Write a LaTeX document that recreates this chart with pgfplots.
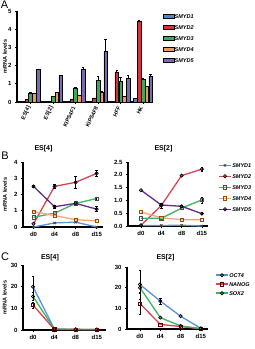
\documentclass[border=0pt]{standalone}
\usepackage{fontspec}
\setmainfont{Liberation Sans}
\usepackage{pgfplots}
\pgfplotsset{compat=1.18}
\definecolor{cA}{HTML}{4F86C6}
\definecolor{cB}{HTML}{D0343F}
\definecolor{cC}{HTML}{3AAA58}
\definecolor{cD}{HTML}{EE9A5E}
\definecolor{cE}{HTML}{7B6AAE}
\definecolor{lA}{HTML}{5A92D4}
\definecolor{lB}{HTML}{D24552}
\definecolor{lC}{HTML}{3FB463}
\definecolor{lD}{HTML}{F0A676}
\definecolor{lE}{HTML}{5E2E86}
\pgfplotsset{
  base/.style={
    scale only axis, clip=false,
    axis x line*=bottom, axis y line*=left,
    axis line style={line width=1.1pt,-},
    tick style={line width=0.8pt,black},
    tick align=outside, major tick length=2pt,
    /pgf/number format/assume math mode=true,
    tick label style={font=\bfseries\fontsize{6}{6}\selectfont},
    xticklabel style={yshift=0.5pt},
    ylabel style={font=\bfseries\fontsize{5.5}{5.5}\selectfont},
    title style={font=\bfseries\fontsize{7}{7}\selectfont, anchor=center},
    legend style={draw=none, fill=none, inner sep=0pt,
      font=\bfseries\itshape\fontsize{5.5}{5.5}\selectfont,
      nodes={inner sep=0.5pt, text height=4pt, text depth=0pt},
      /tikz/every even column/.append style={column sep=2pt}},
    legend cell align=left,
  },
  ln/.style={line width=1.3pt, mark size=1.6pt},
  eb/.style={/pgfplots/error bars/y dir=both, /pgfplots/error bars/y explicit,
    /pgfplots/error bars/error bar style={line width=0.6pt,black},
    /pgfplots/error bars/error mark options={rotate=90,mark size=1.3pt,line width=0.6pt,black}},
  ebp/.style={/pgfplots/error bars/y dir=plus, /pgfplots/error bars/y explicit,
    /pgfplots/error bars/error bar style={line width=0.6pt,black},
    /pgfplots/error bars/error mark options={rotate=90,mark size=1.2pt,line width=0.6pt,black}},
  lineleg/.style={legend image code/.code={\draw[mark repeat=2,mark phase=2,##1,line width=1.6pt] plot coordinates {(0pt,0pt) (6pt,0pt) (12pt,0pt)};}},
}
\begin{document}
\begin{tikzpicture}[x=1pt,y=1pt]
\path[use as bounding box] (0,0) rectangle (255,349);
\node[font=\fontsize{11}{11}\selectfont] at (4.5,344.5) {A};
\node[font=\fontsize{11}{11}\selectfont] at (5,193) {B};
\node[font=\fontsize{11}{11}\selectfont] at (5,92) {C};
% Panel A
\begin{axis}[base, at={(17pt,247pt)}, anchor=south west,
  width=136pt, height=91pt,
  xmin=-0.6, xmax=5.44, ymin=0, ymax=5, ytick={0,1,2,3,4,5},
  xtick={0,1,2,3,4,5},
  xticklabels={{ES[4]},{ES[2]},{KIPS4F1},{KIPS4F8},{HFF},{HK}},
  xticklabel style={rotate=65, anchor=east, font=\bfseries\fontsize{5.5}{5.5}\selectfont},
  ylabel={mRNA levels},
  ylabel style={at={(axis description cs:-0.088,0.5)}, anchor=center},
  ybar=0.2pt, bar width=3.6pt,
  legend image code/.code={\draw[#1] (0pt,-2pt) rectangle (11pt,2pt);},
  legend style={at={(axis description cs:1.07,0.973)}, anchor=north west,
    /tikz/row sep=6pt},
  every axis plot/.append style={draw=black, line width=0.5pt, ebp},
]
\addplot[fill=cA] coordinates {(0,0.02) (1,0.01) (2,0.01) (3,0.02) (4,0.01) (5,0.2)};
\addplot[fill=cB] coordinates {(0,0.15) (1,0.05) (2,0.17) (3,0.22) (4,1.66) +- (0,0.1) (5,4.45) +- (0,0.03)};
\addplot[fill=cC] coordinates {(0,0.5) +- (0,0.04) (1,0.3) (2,0.77) +- (0,0.04) (3,1.2) +- (0,0.22) (4,1.15) +- (0,0.2) (5,1.25) +- (0,0.03)};
\addplot[fill=cD] coordinates {(0,0.5) (1,0.53) (2,0.38) (3,0.52) +- (0,0.05) (4,0.29) (5,0.87)};
\addplot[fill=cE] coordinates {(0,1.8) +- (0,0.02) (1,1.45) +- (0,0.04) (2,1.8) +- (0,0.1) (3,2.8) +- (0,0.64) (4,1.3) +- (0,0.15) (5,1.43) +- (0,0.1)};
\legend{SMYD1,SMYD2,SMYD3,SMYD4,SMYD5}
\end{axis}
% Panel B left
\begin{axis}[base, at={(23pt,122pt)}, anchor=south west,
  width=80pt, height=65pt,
  xmin=-0.5, xmax=3.3, ymin=0, ymax=4, ytick={0,1,2,3,4},
  xtick={0,1,2,3}, xticklabels={d0,d4,d8,d15},
  ylabel={mRNA levels},
  ylabel style={at={(axis description cs:-0.225,0.5)}, anchor=center},
  title={ES[4]}, title style={at={(axis description cs:0.256,1.108)}},
]
\addplot[ln, color=lA, mark=x, mark options={draw=black!75, line width=0.8pt}, eb] coordinates {(0,0.0) (1,0.25) (2,0.3) (3,0.0)};
\addplot[ln, color=lB, mark=o, mark options={draw=black, line width=0.7pt}, eb] coordinates {(0,0.2) (1,2.5) +- (0,0.1) (2,2.75) +- (0,0.35) (3,3.3) +- (0,0.2)};
\addplot[ln, color=lC, mark=square, mark options={draw=black!70, line width=0.7pt}, eb] coordinates {(0,0.6) (1,0.85) (2,1.45) (3,1.75) +- (0,0.1)};
\addplot[ln, color=lD, mark=square, mark options={draw=black!40!orange, line width=0.7pt}, eb] coordinates {(0,0.95) (1,0.7) (2,0.45) (3,0.38)};
\addplot[ln, color=lE, mark=o, mark options={draw=black, line width=0.7pt}, eb] coordinates {(0,2.5) +- (0,0.06) (1,1.25) +- (0,0.08) (2,1.45) (3,1.1) +- (0,0.15)};
\end{axis}
% Panel B right
\begin{axis}[base, at={(128pt,123pt)}, anchor=south west,
  width=80pt, height=64pt,
  xmin=-0.64, xmax=3.3, ymin=0, ymax=2.5, ytick={0,0.5,1,1.5,2,2.5},
  yticklabel style={/pgf/number format/.cd, fixed, fixed zerofill, precision=1},
  xtick={0,1,2,3}, xticklabels={d0,d4,d8,d15},
  title={ES[2]}, title style={at={(axis description cs:0.444,1.11)}},
  lineleg,
  legend style={at={(axis description cs:1.125,0.99)}, anchor=north west,
    /tikz/row sep=6pt},
]
\addplot[ln, color=lA, mark=x, mark options={draw=black!75, line width=0.8pt}, eb] coordinates {(0,0.02) (1,0.02) (2,0.03) (3,0.0)};
\addplot[ln, color=lB, mark=o, mark options={draw=black, line width=0.7pt}, eb] coordinates {(0,0.03) (1,0.8) +- (0,0.1) (2,1.97) (3,2.22) +- (0,0.07)};
\addplot[ln, color=lC, mark=square, mark options={draw=black!70, line width=0.7pt}, eb] coordinates {(0,0.3) (1,0.3) (2,0.7) (3,1.02) +- (0,0.12)};
\addplot[ln, color=lD, mark=square, mark options={draw=black!40!orange, line width=0.7pt}, eb] coordinates {(0,0.55) (1,0.32) (2,0.25) (3,0.25)};
\addplot[ln, color=lE, mark=o, mark options={draw=black, line width=0.7pt}, eb] coordinates {(0,1.4) (1,0.82) (2,0.77) +- (0,0.04) (3,0.48) +- (0,0.04)};
\legend{SMYD1,SMYD2,SMYD3,SMYD4,SMYD5}
\end{axis}
% Panel C left
\begin{axis}[base, at={(23pt,19pt)}, anchor=south west,
  width=83pt, height=65pt,
  xmin=-0.47, xmax=3.43, ymin=0, ymax=30, ytick={0,10,20,30},
  xtick={0,1,2,3}, xticklabels={d0,d4,d8,d15},
  ylabel={mRNA levels},
  ylabel style={at={(axis description cs:-0.22,0.5)}, anchor=center},
  title={ES[4]}, title style={at={(axis description cs:0.325,1.02)}},
]
\addplot[ln, color=lA, mark=o, mark options={draw=black, line width=0.7pt}, eb] coordinates {(0,20) +- (0,5) (1,0.5) (2,0.3) (3,0.2)};
\addplot[ln, color=lC, mark=o, mark options={draw=black, line width=0.7pt}, eb] coordinates {(0,15.5) +- (0,2) (1,0.4) (2,0.3) (3,0.2)};
\addplot[ln, color=lB, mark=square, mark options={draw=black!60!red, line width=0.7pt}, eb] coordinates {(0,11.5) +- (0,1.5) (1,0.3) (2,0.2) (3,0.2)};
\end{axis}
% Panel C right
\begin{axis}[base, at={(127pt,20pt)}, anchor=south west,
  width=81pt, height=62pt,
  xmin=-0.64, xmax=3.35, ymin=0, ymax=30, ytick={0,10,20,30},
  xtick={0,1,2,3}, xticklabels={d0,d4,d8,d15},
  title={ES[2]}, title style={at={(axis description cs:0.475,1.056)}},
  lineleg,
  legend style={at={(axis description cs:1.086,0.91)}, anchor=north west,
    /tikz/row sep=4pt},
]
\addplot[ln, color=lA, mark=o, mark options={draw=black, line width=0.7pt}, eb] coordinates {(0,21.5) +- (0,7) (1,13.5) +- (0,1.5) (2,6.2) (3,0.3)};
\addplot[ln, color=lB, mark=square, mark options={draw=black!60!red, line width=0.7pt}, eb] coordinates {(0,12.3) +- (0,5) (1,2.2) (2,1.2) (3,0.1)};
\addplot[ln, color=lC, mark=o, mark options={draw=black, line width=0.7pt}, eb] coordinates {(0,20) +- (0,2) (1,5.5) (2,1.5) (3,0.2)};
\legend{OCT4,NANOG,SOX2}
\end{axis}
\end{tikzpicture}
\end{document}
